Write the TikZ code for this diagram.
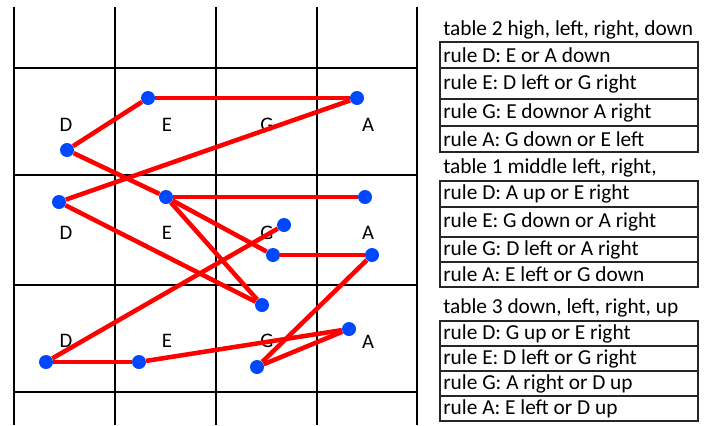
\documentclass[tikz,border=0pt]{standalone}
\usepackage{fontspec}
\setmainfont{Carlito}
\definecolor{dotblue}{RGB}{0,72,255}
\definecolor{linered}{RGB}{255,0,0}
\tikzset{
  dot/.style={circle,fill=dotblue,inner sep=0pt,minimum size=10.5pt},
  lbl/.style={inner sep=0pt,font=\fontsize{15.5}{18}\selectfont},
  rowtxt/.style={anchor=west,inner sep=0pt,font=\fontsize{16}{19}\selectfont},
  move/.style={draw=linered,line width=3.4pt},
  thingrid/.style={line width=0.8pt},
  thickgrid/.style={line width=1.5pt},
  tbl/.style={line width=0.9pt,draw=black!85}
}
\begin{document}
\begin{tikzpicture}[x=0.75pt,y=-0.75pt]
\useasboundingbox (0,0) rectangle (705,425);
% grid
\foreach \x in {14,115,216,317,417}
  \draw [thingrid] (\x,7) -- (\x,425);
\draw [thickgrid] (14,68) rectangle (417,392);
\draw [thickgrid] (14,175) -- (417,175);
\draw [thickgrid] (14,285) -- (417,285);
\foreach \x in {115,216,317}
  \draw [thickgrid] (\x,68) -- (\x,392);
% cell letters
\node [lbl] (hlD) at (66,125) {D};
\node [lbl] (hlE) at (167,125) {E};
\node [lbl] (hlG) at (267,125) {G};
\node [lbl] (hlA) at (368,125) {A};
\node [lbl] (mlD) at (66,233) {D};
\node [lbl] (mlE) at (167,233) {E};
\node [lbl] (mlG) at (267,233) {G};
\node [lbl] (mlA) at (368,233) {A};
\node [lbl] (dlD) at (66,341) {D};
\node [lbl] (dlE) at (167,341) {E};
\node [lbl] (dlG) at (267,341) {G};
\node [lbl] (dlA) at (368,342) {A};
% dots
\node [dot] (hE) at (148,98) {};
\node [dot] (hA) at (357,98) {};
\node [dot] (hD) at (67,150) {};
\node [dot] (mD) at (59,202) {};
\node [dot] (mE) at (166,197) {};
\node [dot] (mA) at (365,197) {};
\node [dot] (mG) at (284,225) {};
\node [dot] (mG2) at (273,255) {};
\node [dot] (mA2) at (372,255) {};
\node [dot] (dG) at (262,305) {};
\node [dot] (dA) at (349,329) {};
\node [dot] (dD) at (46,362) {};
\node [dot] (dE) at (139,362) {};
\node [dot] (dG2) at (257,367) {};
% moves
\draw [move] (hE) -- (hA);
\draw [move] (hE) -- (hD);
\draw [move] (hA) -- (mD);
\draw [move] (hD) -- (mE);
\draw [move] (mE) -- (mG2);
\draw [move] (mE) -- (mA);
\draw [move] (mE) -- (dG);
\draw [move] (mD) -- (dG);
\draw [move] (mG) -- (dD);
\draw [move] (mG2) -- (mA2);
\draw [move] (mA2) -- (dG2);
\draw [move] (dG2) -- (dA);
\draw [move] (dA) -- (dE);
\draw [move] (dE) -- (dD);
% table 2
\node [rowtxt] (t2) at (443,30) {table 2 high, left, right, down};
\draw [tbl] (440,42) rectangle (698,152);
\draw [tbl] (440,68) -- (698,68);
\draw [tbl] (440,99) -- (698,99);
\draw [tbl] (440,126) -- (698,126);
\node [rowtxt] (t2D) at (443,55) {rule D: E or A down};
\node [rowtxt] (t2E) at (443,83.5) {rule E: D left or G right};
\node [rowtxt] (t2G) at (443,112.5) {rule G: E downor A right};
\node [rowtxt] (t2A) at (443,139) {rule A: G down or E left};
% table 1
\node [rowtxt] (t1) at (443,168) {table 1 middle left, right,};
\draw [tbl] (440,181) rectangle (698,287);
\draw [tbl] (440,207) -- (698,207);
\draw [tbl] (440,237) -- (698,237);
\draw [tbl] (440,262) -- (698,262);
\node [rowtxt] (t1D) at (443,194) {rule D: A up or E right};
\node [rowtxt] (t1E) at (443,222) {rule E: G down or A right};
\node [rowtxt] (t1G) at (443,249.5) {rule G: D left or A right};
\node [rowtxt] (t1A) at (443,274.5) {rule A: E left or G down};
% table 3
\node [rowtxt] (t3) at (443,308) {table 3 down, left, right, up};
\draw [tbl] (440,321) rectangle (698,421);
\draw [tbl] (440,346) -- (698,346);
\draw [tbl] (440,371) -- (698,371);
\draw [tbl] (440,396) -- (698,396);
\node [rowtxt] (t3D) at (443,333.5) {rule D: G up or E right};
\node [rowtxt] (t3E) at (443,358.5) {rule E: D left or G right};
\node [rowtxt] (t3G) at (443,383.5) {rule G: A right or D up};
\node [rowtxt] (t3A) at (443,408.5) {rule A: E left or D up};
\end{tikzpicture}
\end{document}
